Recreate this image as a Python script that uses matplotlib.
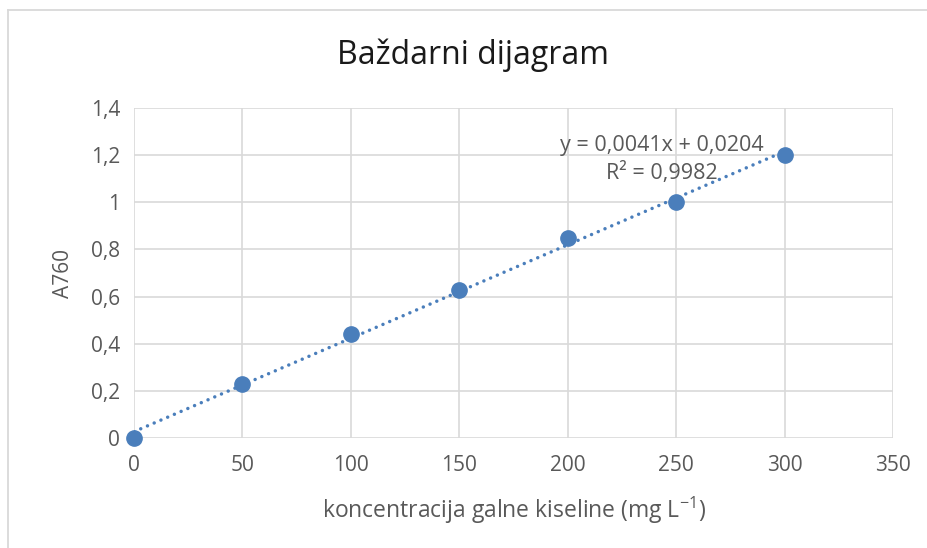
import matplotlib
matplotlib.use('Agg')
import matplotlib.pyplot as plt
from matplotlib.lines import Line2D
import numpy as np

# data
konc = [0, 50, 100, 150, 200, 250, 300]
apsorbancija = [0.0, 0.23, 0.44, 0.63, 0.85, 1.0, 1.2]
nagib_tekst = '0,0041'
odsjecak_tekst = '0,0204'
r2_tekst = '0,9982'
x_ticks = [0, 50, 100, 150, 200, 250, 300, 350]
y_ticks = [0, 0.2, 0.4, 0.6, 0.8, 1.0, 1.2, 1.4]
y_labels = ['0', '0,2', '0,4', '0,6', '0,8', '1', '1,2', '1,4']

plt.rcParams['font.family'] = ['Open Sans', 'DejaVu Sans']
plt.rcParams['mathtext.fontset'] = 'custom'
plt.rcParams['mathtext.rm'] = 'Open Sans'
plt.rcParams['mathtext.it'] = 'Open Sans:italic'
gray = '#595959'
blue = '#4a7ebb'

fig = plt.figure(figsize=(9.28, 5.48), dpi=100)
# chart area border (only top and left edges visible in the crop)
bx, by = 7.5/928, 1 - 9.5/548
fig.lines.append(Line2D([bx, 1], [by, by], transform=fig.transFigure, color='#d9d9d9', lw=1.3))
fig.lines.append(Line2D([bx, bx], [0, by], transform=fig.transFigure, color='#d9d9d9', lw=1.3))

ax = fig.add_axes([134/928, 1 - 438/548, (893 - 134)/928, (438 - 108)/548])

# linear trendline (least squares)
k, n = np.polyfit(konc, apsorbancija, 1)
xt = np.array([0, 300])
ax.plot(xt, k*xt + n, ls=(0, (0.01, 2.1)), lw=2.5, dash_capstyle='round',
        color=blue, zorder=3)
ax.plot(konc, apsorbancija, 'o', ms=11, color=blue, zorder=4, clip_on=False)

ax.set_xlim(0, 350)
ax.set_ylim(0, 1.4)
ax.set_xticks(x_ticks)
ax.set_yticks(y_ticks)
ax.set_yticklabels(y_labels)
ax.grid(True, color='#d9d9d9', lw=1.2)
ax.set_axisbelow(True)
for s in ax.spines.values():
    s.set_visible(False)
ax.tick_params(length=0, labelsize=15, colors=gray)
ax.tick_params(axis='x', pad=12)
ax.tick_params(axis='y', pad=10)

fig.text(473/928, 1 - 55/548, 'Baždarni dijagram', fontsize=23, color='#1a1a1a',
         ha='center', va='center')
ax.set_xlabel(r'koncentracija galne kiseline (mg L$^{-\mathit{1}}$)', fontsize=16.5,
              color=gray, labelpad=14)
ax.set_ylabel('A760', fontsize=15, color=gray, labelpad=12)

ax.text(243.5, 1.239, 'y = ' + nagib_tekst + 'x + ' + odsjecak_tekst,
        ha='center', va='center', fontsize=15.5, color=gray)
ax.text(243.5, 1.124, 'R² = ' + r2_tekst, ha='center', va='center',
        fontsize=15.5, color=gray)

fig.savefig('out.png', dpi=100)
